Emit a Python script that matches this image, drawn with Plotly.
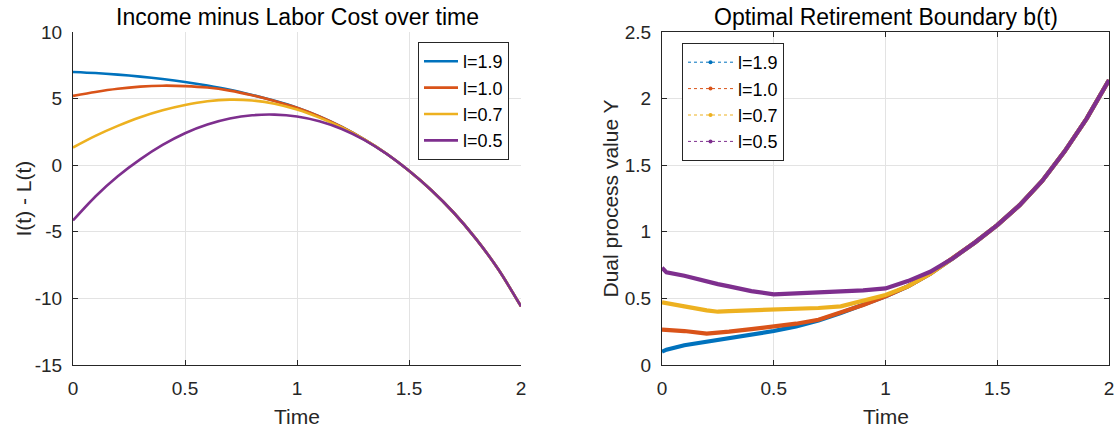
import plotly.graph_objects as go

# ---------------- data ----------------
labels = ["l=1.9", "l=1.0", "l=0.7", "l=0.5"]
colors = ["#0072BD", "#D95319", "#EDB120", "#7E2F8E"]

# Left panel: I(t) - L(t)
t_left = [0.0, 0.1, 0.2, 0.3, 0.4, 0.5, 0.6, 0.7, 0.8, 0.9, 1.0,
          1.1, 1.2, 1.3, 1.4, 1.5, 1.6, 1.7, 1.8, 1.9, 2.0]
il_19 = [7.0, 6.92, 6.8, 6.65, 6.47, 6.25, 5.98, 5.66, 5.27, 4.83, 4.32,
         3.66, 2.87, 1.94, 0.86, -0.42, -1.88, -3.57, -5.55, -7.85, -10.6]
il_10 = [5.2, 5.5, 5.74, 5.9, 5.97, 5.94, 5.83, 5.6, 5.25, 4.82, 4.31,
         3.66, 2.87, 1.94, 0.86, -0.42, -1.88, -3.57, -5.55, -7.85, -10.6]
il_07 = [1.33, 2.2, 2.95, 3.6, 4.12, 4.52, 4.8, 4.92, 4.86, 4.62, 4.18,
         3.57, 2.83, 1.93, 0.86, -0.42, -1.88, -3.57, -5.55, -7.85, -10.6]
il_05 = [-4.15, -2.35, -0.83, 0.44, 1.52, 2.4, 3.05, 3.5, 3.75, 3.8, 3.66,
         3.3, 2.72, 1.9, 0.85, -0.42, -1.88, -3.57, -5.55, -7.85, -10.6]
left_series = [il_19, il_10, il_07, il_05]

# Right panel: optimal retirement boundary b(t)
t_right = [0.0, 0.02, 0.1, 0.2, 0.25, 0.3, 0.4, 0.5, 0.6, 0.7, 0.8, 0.9, 1.0,
           1.1, 1.2, 1.3, 1.4, 1.5, 1.6, 1.7, 1.8, 1.9, 2.0]
b_19 = [0.10, 0.115, 0.148, 0.175, 0.187, 0.2, 0.225, 0.255, 0.29, 0.335, 0.39, 0.45, 0.515,
        0.59, 0.685, 0.8, 0.92, 1.05, 1.2, 1.38, 1.6, 1.85, 2.14]
b_10 = [0.265, 0.263, 0.255, 0.235, 0.24, 0.25, 0.27, 0.29, 0.31, 0.34, 0.395, 0.45, 0.515,
        0.59, 0.685, 0.8, 0.92, 1.05, 1.2, 1.38, 1.6, 1.85, 2.14]
b_07 = [0.47, 0.465, 0.44, 0.41, 0.40, 0.405, 0.41, 0.413, 0.42, 0.428, 0.44, 0.48, 0.525,
        0.59, 0.685, 0.8, 0.92, 1.05, 1.2, 1.38, 1.6, 1.85, 2.14]
b_05 = [0.73, 0.695, 0.67, 0.625, 0.607, 0.59, 0.555, 0.53, 0.535, 0.545, 0.553, 0.56, 0.575,
        0.63, 0.70, 0.8, 0.92, 1.05, 1.2, 1.38, 1.6, 1.85, 2.14]
right_series = [b_19, b_10, b_07, b_05]

x_ticks = [0, 0.5, 1, 1.5, 2]
x_ticktext = ["0", "0.5", "1", "1.5", "2"]
yl_ticks = [-15, -10, -5, 0, 5, 10]
yl_ticktext = ["-15", "-10", "-5", "0", "5", "10"]
yr_ticks = [0, 0.5, 1, 1.5, 2, 2.5]
yr_ticktext = ["0", "0.5", "1", "1.5", "2", "2.5"]

title_left = "Income minus Labor Cost over time"
title_right = "Optimal Retirement Boundary b(t)"
xlabel = "Time"
ylabel_left = "I(t) - L(t)"
ylabel_right = "Dual process value Y"

# ---------------- figure ----------------
W, H = 1115, 432
FONT = "Liberation Sans, Arial, Helvetica, sans-serif"
TXT = "#262626"
GRID = "#e3e3e3"

fig = go.Figure()

for lab, col, ys in zip(labels, colors, left_series):
    fig.add_trace(go.Scatter(
        x=t_left, y=ys, mode="lines", name=lab,
        line=dict(color=col, width=2.6, shape="spline", smoothing=0.8),
        xaxis="x", yaxis="y", legend="legend"))

for lab, col, ys in zip(labels, colors, right_series):
    fig.add_trace(go.Scatter(
        x=t_right, y=ys, mode="lines", name=lab, showlegend=False,
        line=dict(color=col, width=4.2),
        xaxis="x2", yaxis="y2"))
# legend entries for the right panel (dotted line with dot marker)
for lab, col in zip(labels, colors):
    fig.add_trace(go.Scatter(
        x=[None], y=[None], mode="lines+markers", name=lab,
        line=dict(color=col, width=1, dash="dot"),
        marker=dict(color=col, size=4),
        xaxis="x2", yaxis="y2", legend="legend2"))

def px_x(p):
    return p / W

def px_y(p):
    return 1 - p / H

L0, L1 = 73, 521
R0, R1 = 662, 1109
T0, B0 = 32, 365

axis_common = dict(
    showline=True, linecolor=TXT, linewidth=1,
    ticks="inside", ticklen=5, tickcolor=TXT, tickwidth=1,
    showgrid=True, gridcolor=GRID, gridwidth=1, zeroline=False,
    automargin=False,
    tickfont=dict(family=FONT, size=19, color=TXT),
)

fig.update_layout(
    width=W, height=H, autosize=False,
    margin=dict(l=0, r=0, t=0, b=0, pad=0),
    paper_bgcolor="white", plot_bgcolor="white",
    font=dict(family=FONT, color=TXT),
    hovermode=False,
    xaxis=dict(domain=[px_x(L0), px_x(L1)], range=[0, 2], anchor="y",
               tickvals=x_ticks, ticktext=x_ticktext, ticklabelstandoff=6, **axis_common),
    yaxis=dict(domain=[px_y(B0), px_y(T0)], range=[-15, 10], anchor="x",
               tickvals=yl_ticks, ticktext=yl_ticktext, ticklabelstandoff=6, **axis_common),
    xaxis2=dict(domain=[px_x(R0), px_x(R1)], range=[0, 2], anchor="y2", mirror="ticks",
                tickvals=x_ticks, ticktext=x_ticktext, ticklabelstandoff=6, **axis_common),
    yaxis2=dict(domain=[px_y(B0), px_y(T0)], range=[0, 2.5], anchor="x2", mirror="ticks",
                tickvals=yr_ticks, ticktext=yr_ticktext, ticklabelstandoff=6, **axis_common),
    legend=dict(x=px_x(509), y=px_y(42), xanchor="right", yanchor="top",
                bgcolor="white", bordercolor=TXT, borderwidth=1,
                font=dict(family=FONT, size=18, color="#000000"),
                tracegroupgap=0, itemwidth=34),
    legend2=dict(x=px_x(682), y=px_y(43), xanchor="left", yanchor="top",
                 bgcolor="white", bordercolor=TXT, borderwidth=1,
                 font=dict(family=FONT, size=18, color="#000000"),
                 tracegroupgap=0, itemwidth=45),
    showlegend=True,
)

ann_font_title = dict(family=FONT, size=23, color="#000000")
ann_font_lab = dict(family=FONT, size=21, color=TXT)
fig.add_annotation(text=title_left, x=px_x((L0 + L1) / 2), y=px_y(17), xref="paper", yref="paper",
                   showarrow=False, xanchor="center", yanchor="middle", font=ann_font_title)
fig.add_annotation(text=title_right, x=px_x((R0 + R1) / 2), y=px_y(17), xref="paper", yref="paper",
                   showarrow=False, xanchor="center", yanchor="middle", font=ann_font_title)
fig.add_annotation(text=xlabel, x=px_x((L0 + L1) / 2), y=px_y(416), xref="paper", yref="paper",
                   showarrow=False, xanchor="center", yanchor="middle", font=ann_font_lab)
fig.add_annotation(text=xlabel, x=px_x((R0 + R1) / 2), y=px_y(416), xref="paper", yref="paper",
                   showarrow=False, xanchor="center", yanchor="middle", font=ann_font_lab)
fig.add_annotation(text=ylabel_left, x=px_x(23), y=px_y((T0 + B0) / 2), xref="paper", yref="paper",
                   showarrow=False, xanchor="center", yanchor="middle", textangle=-90, font=ann_font_lab)
fig.add_annotation(text=ylabel_right, x=px_x(610), y=px_y((T0 + B0) / 2), xref="paper", yref="paper",
                   showarrow=False, xanchor="center", yanchor="middle", textangle=-90, font=ann_font_lab)

fig.write_html("out.html", config={"responsive": False, "displayModeBar": False},
               post_script="document.body.style.margin='0';document.body.style.overflow='hidden';")
